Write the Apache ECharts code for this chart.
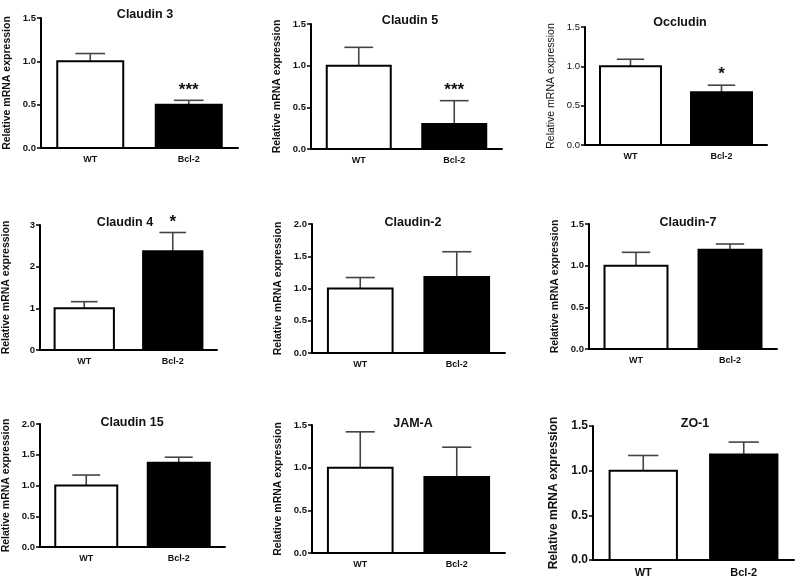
<!DOCTYPE html>
<html><head><meta charset="utf-8">
<script src="https://cdn.jsdelivr.net/npm/echarts@6/dist/echarts.min.js"></script>
<style>html,body{margin:0;padding:0;background:#fff}#c{width:800px;height:580px}</style>
</head><body><div id="c"></div>
<script>
const categories = ['WT', 'Bcl-2'];
const panelTitles = ['Claudin 3','Claudin 5','Occludin','Claudin 4','Claudin-2','Claudin-7','Claudin 15','JAM-A','ZO-1'];
const wtMean   = [1.00, 1.00, 1.00, 1.00, 1.00, 1.00, 1.00, 1.00, 1.00];
const bclMean  = [0.50, 0.30, 0.67, 2.37, 1.18, 1.19, 1.37, 0.89, 1.18];
const wtErrTop = [1.09, 1.22, 1.09, 1.16, 1.17, 1.16, 1.17, 1.42, 1.17];
const bclErrTop= [0.55, 0.58, 0.76, 2.82, 1.57, 1.26, 1.46, 1.24, 1.32];
const bclSig   = ['***', '***', '*', '*', '', '', '', '', ''];
const yMax     = [1.5, 1.5, 1.5, 3, 2, 1.5, 2, 1.5, 1.5];
const yStep    = [0.5, 0.5, 0.5, 1, 0.5, 0.5, 0.5, 0.5, 0.5];
const yName = 'Relative mRNA expression';

// layout (px)
const grids = [
  {left:41, top:18, width:197, height:130},
  {left:311, top:24, width:191, height:125},
  {left:585, top:27, width:182, height:118},
  {left:31, top:225, width:186, height:125},
  {left:312, top:224, width:193, height:129},
  {left:589, top:224, width:188, height:125},
  {left:39, top:424, width:186, height:123},
  {left:312, top:425, width:193, height:128},
  {left:593, top:426, width:201, height:134}
];
const titlePos = [[140,3],[405,9],[675,11],[120,211],[408,211],[683,211],[127,411],[408,412],[690,412]];
const FONT = 'Arial, "Liberation Sans", sans-serif';

const option = {animation:false, backgroundColor:'#fff', title:[], grid:[], xAxis:[], yAxis:[], series:[]};

panelTitles.forEach((t, i) => {
  const big = i === 8;
  const thin = i === 2;
  option.title.push({text:t, left:titlePos[i][0], top:titlePos[i][1], textAlign:'center',
    textStyle:{fontFamily:FONT, fontSize:12.5, fontWeight:'bold', color:'#111'}});
  option.grid.push(grids[i]);
  option.xAxis.push({type:'category', gridIndex:i, data:categories,
    axisLine:{lineStyle:{color:'#000', width:2}},
    axisTick:{alignWithLabel:true, length:4, lineStyle:{color:'#000', width:1.5}},
    axisLabel:{fontFamily:FONT, fontWeight:'bold', fontSize: big ? 11 : 9, color:'#111', margin:7}});
  option.yAxis.push({type:'value', gridIndex:i, min:0, max:yMax[i], interval:yStep[i],
    name:yName, nameLocation:'middle', nameRotate:90, nameGap: big ? 33 : 28,
    nameTextStyle:{fontFamily:FONT, fontWeight: thin ? 'normal' : 'bold', fontSize: big ? 12 : 10.5, color:'#111'},
    axisLine:{show:true, lineStyle:{color:'#000', width:2}},
    axisTick:{show:true, length:4, lineStyle:{color:'#000', width:1.5}},
    splitLine:{show:false},
    axisLabel:{fontFamily:FONT, fontWeight: thin ? 'normal' : 'bold', fontSize: big ? 12 : 9.5, color:'#111', margin:5,
      formatter: v => yStep[i] >= 1 ? String(v) : v.toFixed(1)}});
  const means = [wtMean[i], bclMean[i]];
  const tops = [wtErrTop[i], bclErrTop[i]];
  const sigs = ['', bclSig[i]];
  option.series.push({
    type:'custom', xAxisIndex:i, yAxisIndex:i,
    data: categories.map((c, k) => [k, means[k], tops[k]]),
    renderItem: (params, api) => {
      const k = api.value(0);
      const base = api.coord([k, 0]);
      const top = api.coord([k, api.value(1)]);
      const et = api.coord([k, api.value(2)]);
      const band = api.size([1, 0])[0];
      const bw = band * 0.67;
      const cap = bw * 0.45;
      const children = [
        {type:'line', shape:{x1:top[0], y1:top[1], x2:et[0], y2:et[1]}, style:{stroke:'#444', lineWidth:1.6}},
        {type:'line', shape:{x1:et[0]-cap/2, y1:et[1], x2:et[0]+cap/2, y2:et[1]}, style:{stroke:'#444', lineWidth:1.6}},
        {type:'rect', shape:{x:base[0]-bw/2, y:top[1], width:bw, height:base[1]-top[1]},
          style:{fill: k === 0 ? '#fff' : '#000', stroke:'#000', lineWidth:2}}
      ];
      if (sigs[k]) {
        children.push({type:'text', style:{text:sigs[k], x:et[0], y:et[1]-2, align:'center', verticalAlign:'bottom',
          font:'bold 17px ' + FONT, fill:'#111'}});
      }
      return {type:'group', children};
    }
  });
});

const chart = echarts.init(document.getElementById('c'), null, {renderer:'canvas'});
chart.setOption(option);
</script></body></html>
